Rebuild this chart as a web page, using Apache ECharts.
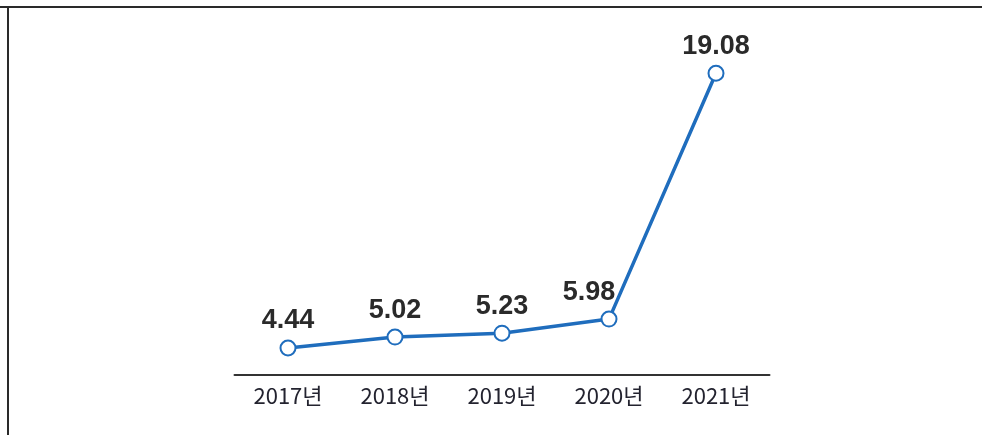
<!DOCTYPE html>
<html>
<head>
<meta charset="utf-8">
<script src="https://cdn.jsdelivr.net/npm/echarts@6/dist/echarts.min.js"></script>
<style>
html,body{margin:0;padding:0;background:#fff;}
#chart{width:982px;height:435px;}
</style>
</head>
<body>
<div id="chart"></div>
<script>
var categories = ['2017년', '2018년', '2019년', '2020년', '2021년'];
var values = [4.44, 5.02, 5.23, 5.98, 19.08];

var seriesData = values.map(function (v, i) {
  var item = { value: v };
  if (i === 3) { item.label = { offset: [-20, 0] }; }
  return item;
});

var chart = echarts.init(document.getElementById('chart'));
chart.setOption({
  animation: false,
  backgroundColor: '#ffffff',
  graphic: [
    { type: 'line', shape: { x1: 0, y1: 7, x2: 982, y2: 7 }, style: { stroke: '#2a2a2a', lineWidth: 2 } },
    { type: 'line', shape: { x1: 8, y1: 7, x2: 8, y2: 435 }, style: { stroke: '#2a2a2a', lineWidth: 2 } }
  ],
  grid: { left: 234.5, right: 212.5, top: 56, bottom: 60 },
  xAxis: {
    type: 'category',
    data: categories,
    boundaryGap: true,
    axisLine: { lineStyle: { color: '#333', width: 2 } },
    axisTick: { show: false },
    axisLabel: {
      margin: 10,
      color: '#23232f',
      fontSize: 22,
      fontFamily: '"Liberation Sans Narrow", "Noto Sans CJK KR", sans-serif'
    }
  },
  yAxis: {
    type: 'value',
    min: 3,
    max: 20,
    show: false,
    splitLine: { show: false }
  },
  series: [{
    type: 'line',
    data: seriesData,
    symbol: 'emptyCircle',
    symbolSize: 15,
    lineStyle: { color: '#1f6dbd', width: 3.5 },
    itemStyle: { color: '#1f6dbd', borderWidth: 3.5, borderColor: '#1f6dbd' },
    label: {
      show: true,
      position: 'top',
      distance: 5,
      color: '#2a2a2a',
      fontSize: 27,
      fontWeight: 'bold',
      fontFamily: '"Liberation Sans", Arial, sans-serif',
      formatter: function (p) { return p.value.toFixed(2); }
    }
  }]
});
</script>
</body>
</html>
